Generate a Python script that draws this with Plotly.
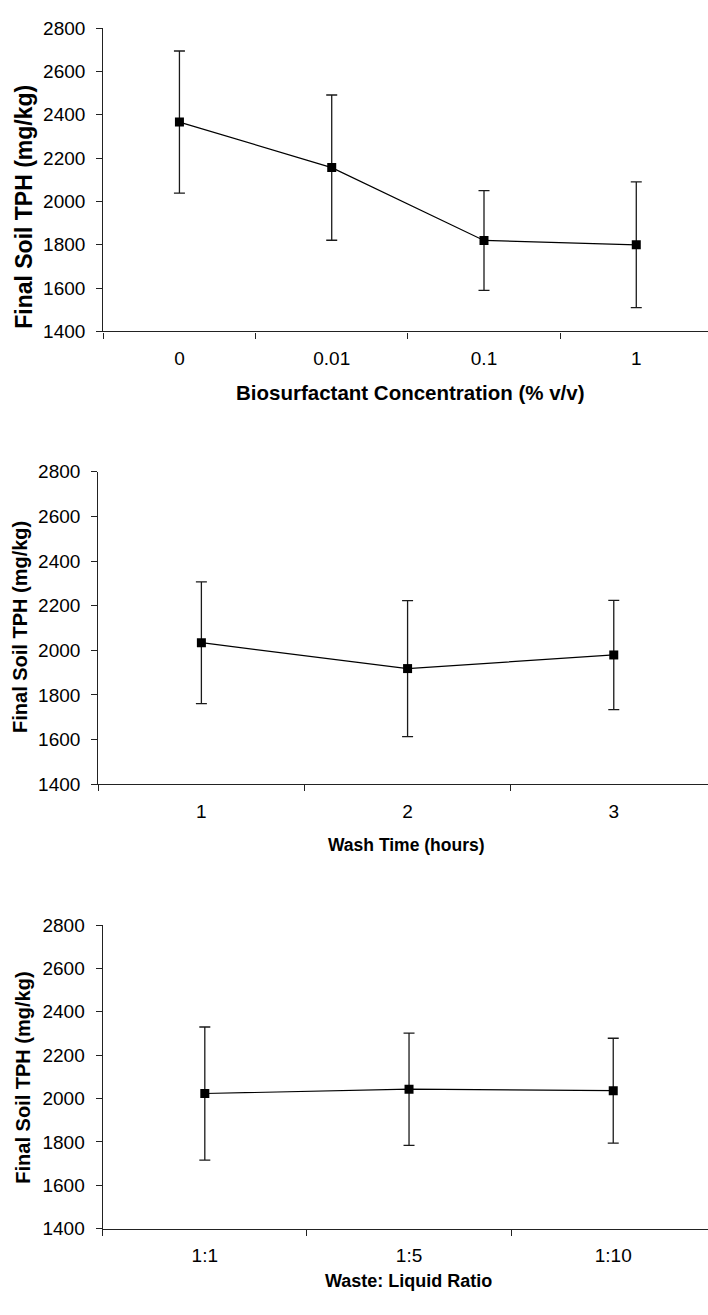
import plotly.graph_objects as go

# ---- data ----
conc_labels = ["0", "0.01", "0.1", "1"]
conc_tph = [2366, 2156, 1820, 1800]
conc_err = [328, 335, 230, 290]

time_labels = ["1", "2", "3"]
time_tph = [2034, 1918, 1979]
time_err = [273, 305, 245]

ratio_labels = ["1:1", "1:5", "1:10"]
ratio_tph = [2023, 2043, 2036]
ratio_err = [307, 259, 242]

y_ticks = [1400, 1600, 1800, 2000, 2200, 2400, 2600, 2800]

x_titles = ["Biosurfactant Concentration (% v/v)", "Wash Time (hours)", "Waste: Liquid Ratio"]
y_title = "Final Soil TPH (mg/kg)"

W, H = 708, 1315
FONT = "Liberation Sans, Arial, sans-serif"

def px_x(p):
    return p / W

def px_y(p):
    return 1 - p / H

fig = go.Figure()

panels = [
    dict(labels=conc_labels, y=conc_tph, e=conc_err, x0=103.3, top=18.3, bot=326.7, xr=3.471),
    dict(labels=time_labels, y=time_tph, e=time_err, x0=98.3, top=469.3, bot=786.7, xr=2.457),
    dict(labels=ratio_labels, y=ratio_tph, e=ratio_err, x0=102.7, top=930.0, bot=1238.3, xr=2.464),
]

for i, p in enumerate(panels):
    n = i + 1
    xa = "x" if n == 1 else f"x{n}"
    ya = "y" if n == 1 else f"y{n}"
    fig.add_trace(go.Scatter(
        x=p["labels"], y=p["y"], xaxis=xa, yaxis=ya,
        mode="lines+markers",
        line=dict(color="black", width=1.2),
        marker=dict(symbol="square", size=9, color="black"),
        error_y=dict(type="data", array=p["e"], symmetric=True,
                     color="#1a1a1a", thickness=1.3, width=5.5),
        showlegend=False,
    ))
    xkey = "xaxis" if n == 1 else f"xaxis{n}"
    ykey = "yaxis" if n == 1 else f"yaxis{n}"
    fig.update_layout(**{
        xkey: dict(
            type="category", domain=[px_x(p["x0"]), 1.0],
            anchor=ya, range=[-0.5, p["xr"]],
            tickson="boundaries", ticks="outside", ticklen=6, tickwidth=1.2,
            tickcolor="#222", showline=True, linecolor="#222", linewidth=1.3,
            showgrid=False, zeroline=False,
            tickfont=dict(family=FONT, size=19, color="black"),
            ticklabelstandoff=10,
        ),
        ykey: dict(
            domain=[px_y(p["bot"]), px_y(p["top"])], anchor=xa,
            range=[1400, 2800], tickvals=y_ticks,
            ticks="outside", ticklen=6, tickwidth=1.2, tickcolor="#222",
            showline=True, linecolor="#222", linewidth=1.3,
            showgrid=False, zeroline=False,
            tickfont=dict(family=FONT, size=19, color="black"),
            ticklabelstandoff=7,
        ),
    })

# axis titles as annotations placed precisely
xt_pos = [(410, 389, 20.5), (407, 849, 17.5), (408, 1292, 18)]
for t, (cx, cy, fs) in zip(x_titles, xt_pos):
    fig.add_annotation(text=f"<b>{t}</b>", x=px_x(cx), y=px_y(cy), xref="paper", yref="paper",
                       showarrow=False, xanchor="center", yanchor="middle",
                       font=dict(family=FONT, size=fs, color="black"))

yt_pos = [(24, 200, 23), (20, 627, 20), (23, 1085, 20)]
for cx, cy, fs in yt_pos:
    fig.add_annotation(text=f"<b>{y_title}</b>", x=px_x(cx), y=px_y(cy), xref="paper", yref="paper",
                       showarrow=False, xanchor="center", yanchor="middle", textangle=-90,
                       font=dict(family=FONT, size=fs, color="black"))

fig.update_layout(
    width=W, height=H,
    margin=dict(l=0, r=0, t=0, b=0),
    paper_bgcolor="white", plot_bgcolor="white",
)

fig.write_html("out.html")
